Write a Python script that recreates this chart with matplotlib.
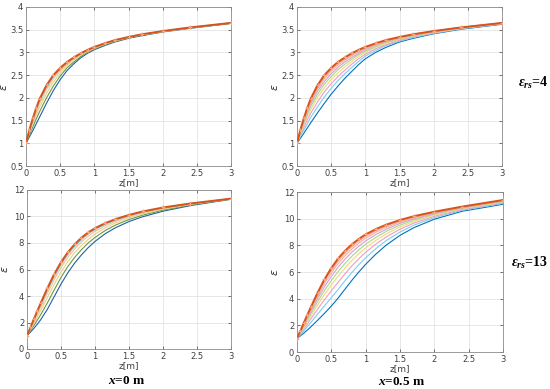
import matplotlib
matplotlib.use("Agg")
import matplotlib.pyplot as plt

plt.rcParams['mathtext.fontset'] = 'custom'
plt.rcParams['mathtext.rm'] = 'Liberation Serif:bold'
plt.rcParams['mathtext.it'] = 'Liberation Serif:italic:bold'
plt.rcParams['mathtext.bf'] = 'Liberation Serif:bold'

z = [0, 0.05, 0.1, 0.15, 0.2, 0.3, 0.4, 0.5, 0.6, 0.7, 0.8, 0.9, 1.0,
     1.15, 1.3, 1.5, 1.7, 2.0, 2.4, 3.0]

# panel: eps_rs = 4, x = 0 m (bottom -> top)
tl_curves = [
    [1.0, 1.14, 1.28, 1.43, 1.58, 1.88, 2.16, 2.40, 2.60, 2.75, 2.88, 2.98, 3.06, 3.15, 3.23, 3.31, 3.37, 3.45, 3.53, 3.64],
    [1.0, 1.19, 1.36, 1.54, 1.70, 2.00, 2.26, 2.48, 2.66, 2.79, 2.91, 3.00, 3.08, 3.17, 3.24, 3.32, 3.38, 3.46, 3.54, 3.64],
    [1.0, 1.23, 1.43, 1.62, 1.80, 2.10, 2.35, 2.54, 2.71, 2.83, 2.94, 3.02, 3.09, 3.18, 3.25, 3.33, 3.39, 3.46, 3.54, 3.65],
    [1.0, 1.26, 1.48, 1.69, 1.88, 2.18, 2.42, 2.60, 2.74, 2.86, 2.96, 3.04, 3.11, 3.19, 3.26, 3.33, 3.39, 3.46, 3.54, 3.65],
    [1.0, 1.28, 1.52, 1.75, 1.94, 2.24, 2.47, 2.63, 2.77, 2.88, 2.97, 3.05, 3.11, 3.20, 3.27, 3.34, 3.40, 3.47, 3.55, 3.65],
    [1.0, 1.30, 1.55, 1.78, 1.98, 2.28, 2.50, 2.66, 2.79, 2.89, 2.98, 3.055, 3.12, 3.20, 3.27, 3.34, 3.40, 3.47, 3.55, 3.65],
]

# panel: eps_rs = 4, x = 0.5 m
tr_curves = [
    [1.0, 1.11, 1.22, 1.335, 1.45, 1.67, 1.88, 2.08, 2.26, 2.43, 2.58, 2.73, 2.86, 3.00, 3.11, 3.23, 3.31, 3.41, 3.51, 3.62],
    [1.0, 1.15, 1.29, 1.43, 1.57, 1.80, 2.02, 2.21, 2.38, 2.53, 2.67, 2.80, 2.92, 3.04, 3.15, 3.25, 3.33, 3.42, 3.52, 3.63],
    [1.0, 1.19, 1.35, 1.51, 1.66, 1.91, 2.13, 2.31, 2.47, 2.61, 2.74, 2.86, 2.96, 3.08, 3.17, 3.27, 3.35, 3.43, 3.53, 3.63],
    [1.0, 1.22, 1.40, 1.58, 1.74, 2.01, 2.22, 2.40, 2.55, 2.68, 2.80, 2.91, 3.00, 3.11, 3.20, 3.29, 3.36, 3.44, 3.53, 3.64],
    [1.0, 1.24, 1.44, 1.63, 1.81, 2.08, 2.30, 2.47, 2.62, 2.74, 2.85, 2.95, 3.03, 3.13, 3.22, 3.30, 3.37, 3.45, 3.54, 3.64],
    [1.0, 1.26, 1.48, 1.68, 1.86, 2.15, 2.36, 2.53, 2.67, 2.79, 2.89, 2.98, 3.06, 3.16, 3.24, 3.32, 3.38, 3.46, 3.54, 3.64],
    [1.0, 1.28, 1.51, 1.72, 1.91, 2.20, 2.42, 2.59, 2.72, 2.83, 2.93, 3.01, 3.09, 3.17, 3.25, 3.33, 3.39, 3.46, 3.55, 3.65],
    [1.0, 1.29, 1.53, 1.75, 1.95, 2.24, 2.46, 2.63, 2.76, 2.86, 2.96, 3.04, 3.10, 3.19, 3.26, 3.33, 3.40, 3.47, 3.55, 3.65],
    [1.0, 1.30, 1.55, 1.78, 1.98, 2.28, 2.50, 2.66, 2.79, 2.89, 2.98, 3.055, 3.12, 3.20, 3.27, 3.34, 3.40, 3.47, 3.55, 3.65],
]

# panel: eps_rs = 13, x = 0 m
bl_curves = [
    [1.0, 1.27, 1.55, 1.86, 2.20, 3.00, 3.95, 4.90, 5.75, 6.48, 7.10, 7.65, 8.12, 8.70, 9.15, 9.62, 9.98, 10.40, 10.82, 11.30],
    [1.0, 1.38, 1.76, 2.16, 2.58, 3.48, 4.46, 5.40, 6.22, 6.91, 7.49, 8.00, 8.42, 8.94, 9.35, 9.77, 10.10, 10.48, 10.87, 11.32],
    [1.0, 1.47, 1.94, 2.41, 2.89, 3.88, 4.89, 5.81, 6.60, 7.26, 7.82, 8.28, 8.67, 9.14, 9.51, 9.90, 10.20, 10.55, 10.91, 11.33],
    [1.0, 1.54, 2.08, 2.61, 3.14, 4.20, 5.23, 6.14, 6.91, 7.55, 8.08, 8.51, 8.87, 9.30, 9.64, 10.00, 10.28, 10.61, 10.94, 11.34],
    [1.0, 1.59, 2.18, 2.76, 3.33, 4.44, 5.48, 6.39, 7.15, 7.76, 8.27, 8.69, 9.02, 9.42, 9.74, 10.07, 10.34, 10.65, 10.96, 11.35],
    [1.0, 1.63, 2.25, 2.86, 3.45, 4.60, 5.65, 6.55, 7.30, 7.90, 8.40, 8.80, 9.12, 9.50, 9.80, 10.12, 10.38, 10.68, 10.98, 11.35],
]

# panel: eps_rs = 13, x = 0.5 m
br_curves = [
    [1.0, 1.21, 1.42, 1.645, 1.88, 2.38, 2.90, 3.45, 4.05, 4.72, 5.38, 6.00, 6.58, 7.35, 8.02, 8.75, 9.32, 9.96, 10.55, 11.08],
    [1.0, 1.30, 1.59, 1.90, 2.20, 2.84, 3.46, 4.08, 4.70, 5.35, 5.97, 6.55, 7.07, 7.76, 8.36, 9.00, 9.51, 10.08, 10.63, 11.15],
    [1.0, 1.37, 1.73, 2.10, 2.47, 3.21, 3.92, 4.59, 5.24, 5.87, 6.46, 6.99, 7.48, 8.10, 8.63, 9.21, 9.66, 10.18, 10.69, 11.21],
    [1.0, 1.43, 1.85, 2.27, 2.69, 3.52, 4.30, 5.02, 5.68, 6.30, 6.87, 7.36, 7.81, 8.38, 8.86, 9.38, 9.79, 10.27, 10.74, 11.26],
    [1.0, 1.47, 1.94, 2.41, 2.87, 3.77, 4.61, 5.36, 6.04, 6.65, 7.19, 7.66, 8.08, 8.60, 9.05, 9.52, 9.90, 10.34, 10.79, 11.29],
    [1.0, 1.51, 2.03, 2.53, 3.03, 4.00, 4.89, 5.67, 6.37, 6.97, 7.49, 7.93, 8.33, 8.81, 9.21, 9.65, 9.99, 10.40, 10.82, 11.33],
    [1.0, 1.55, 2.10, 2.63, 3.16, 4.18, 5.12, 5.93, 6.63, 7.23, 7.73, 8.16, 8.53, 8.98, 9.35, 9.75, 10.07, 10.45, 10.86, 11.36],
    [1.0, 1.58, 2.15, 2.71, 3.26, 4.33, 5.30, 6.13, 6.84, 7.43, 7.92, 8.33, 8.69, 9.11, 9.46, 9.83, 10.13, 10.49, 10.88, 11.38],
    [1.0, 1.60, 2.20, 2.78, 3.35, 4.45, 5.45, 6.30, 7.02, 7.60, 8.08, 8.48, 8.82, 9.22, 9.55, 9.90, 10.18, 10.52, 10.90, 11.40],
]

xticks = [0, 0.5, 1, 1.5, 2, 2.5, 3]
xticklabels = ['0', '0.5', '1', '1.5', '2', '2.5', '3']
yticks_4 = [0.5, 1, 1.5, 2, 2.5, 3, 3.5, 4]
yticklabels_4 = ['0.5', '1', '1.5', '2', '2.5', '3', '3.5', '4']
yticks_13 = [0, 2, 4, 6, 8, 10, 12]
yticklabels_13 = ['0', '2', '4', '6', '8', '10', '12']

left_colors = ['#1f5fa8', '#6a9a3a', '#e8cf8a', '#f0c090', '#4dbeee']
right_colors = ['#0072BD', '#80cdee', '#ee9cc4', '#f3d67c', '#a8d884',
                '#cfa0da', '#f5b090', '#f39a9a']
top_color = '#D95319'
marker_color = '#F7A27A'

fig = plt.figure(figsize=(5.5, 3.89), dpi=100)

panels = [
    ([26 / 550, 1 - 166 / 389, 205 / 550, 159 / 389], tl_curves, left_colors, yticks_4, yticklabels_4, (0.5, 4)),
    ([297 / 550, 1 - 166 / 389, 205 / 550, 159 / 389], tr_curves, right_colors, yticks_4, yticklabels_4, (0.5, 4)),
    ([27 / 550, 1 - 349 / 389, 204 / 550, 159 / 389], bl_curves, left_colors, yticks_13, yticklabels_13, (0, 12)),
    ([297 / 550, 1 - 352 / 389, 206 / 550, 160 / 389], br_curves, right_colors, yticks_13, yticklabels_13, (0, 12)),
]

for rect, curves, cols, yt, ytl, ylim in panels:
    ax = fig.add_axes(rect)
    for i, c in enumerate(curves[:-1]):
        ax.plot(z, c, color=cols[i % len(cols)], lw=0.8, zorder=3)
    ax.plot(z, curves[-1], color=top_color, lw=1.4, zorder=4,
            marker='+', ms=3.5, mec=marker_color, mew=0.8)
    ax.set_xlim(0, 3)
    ax.set_ylim(*ylim)
    ax.set_xticks(xticks)
    ax.set_xticklabels(xticklabels)
    ax.set_yticks(yt)
    ax.set_yticklabels(ytl)
    ax.grid(True, color='#e3e3e3', lw=0.6)
    ax.set_axisbelow(True)
    ax.tick_params(direction='in', length=2, width=0.5, labelsize=6,
                   colors='#404040', top=True, right=True, pad=2)
    for s in ax.spines.values():
        s.set_color('#8a8a8a')
        s.set_linewidth(0.6)
    ax.set_xlabel('z[m]', fontsize=6.5, color='#404040', labelpad=0.5)
    ax.set_ylabel('ε', fontsize=8, color='#303030', style='italic')
    ax.yaxis.set_label_coords(-0.085, 0.5)

fig.text(127 / 550, 1 - 381 / 389, r'$x$=0 m', ha='center', va='center',
         fontsize=9.5, fontweight='bold', family='Liberation Serif')
fig.text(402 / 550, 1 - 382 / 389, r'$x$=0.5 m', ha='center', va='center',
         fontsize=9.5, fontweight='bold', family='Liberation Serif')
fig.text(533 / 550, 1 - 83 / 389, r'$\varepsilon_{rs}$=4', ha='center', va='center',
         fontsize=10, fontweight='bold', family='Liberation Serif')
fig.text(529 / 550, 1 - 263 / 389, r'$\varepsilon_{rs}$=13', ha='center', va='center',
         fontsize=10, fontweight='bold', family='Liberation Serif')

fig.savefig('out.png', dpi=100)
